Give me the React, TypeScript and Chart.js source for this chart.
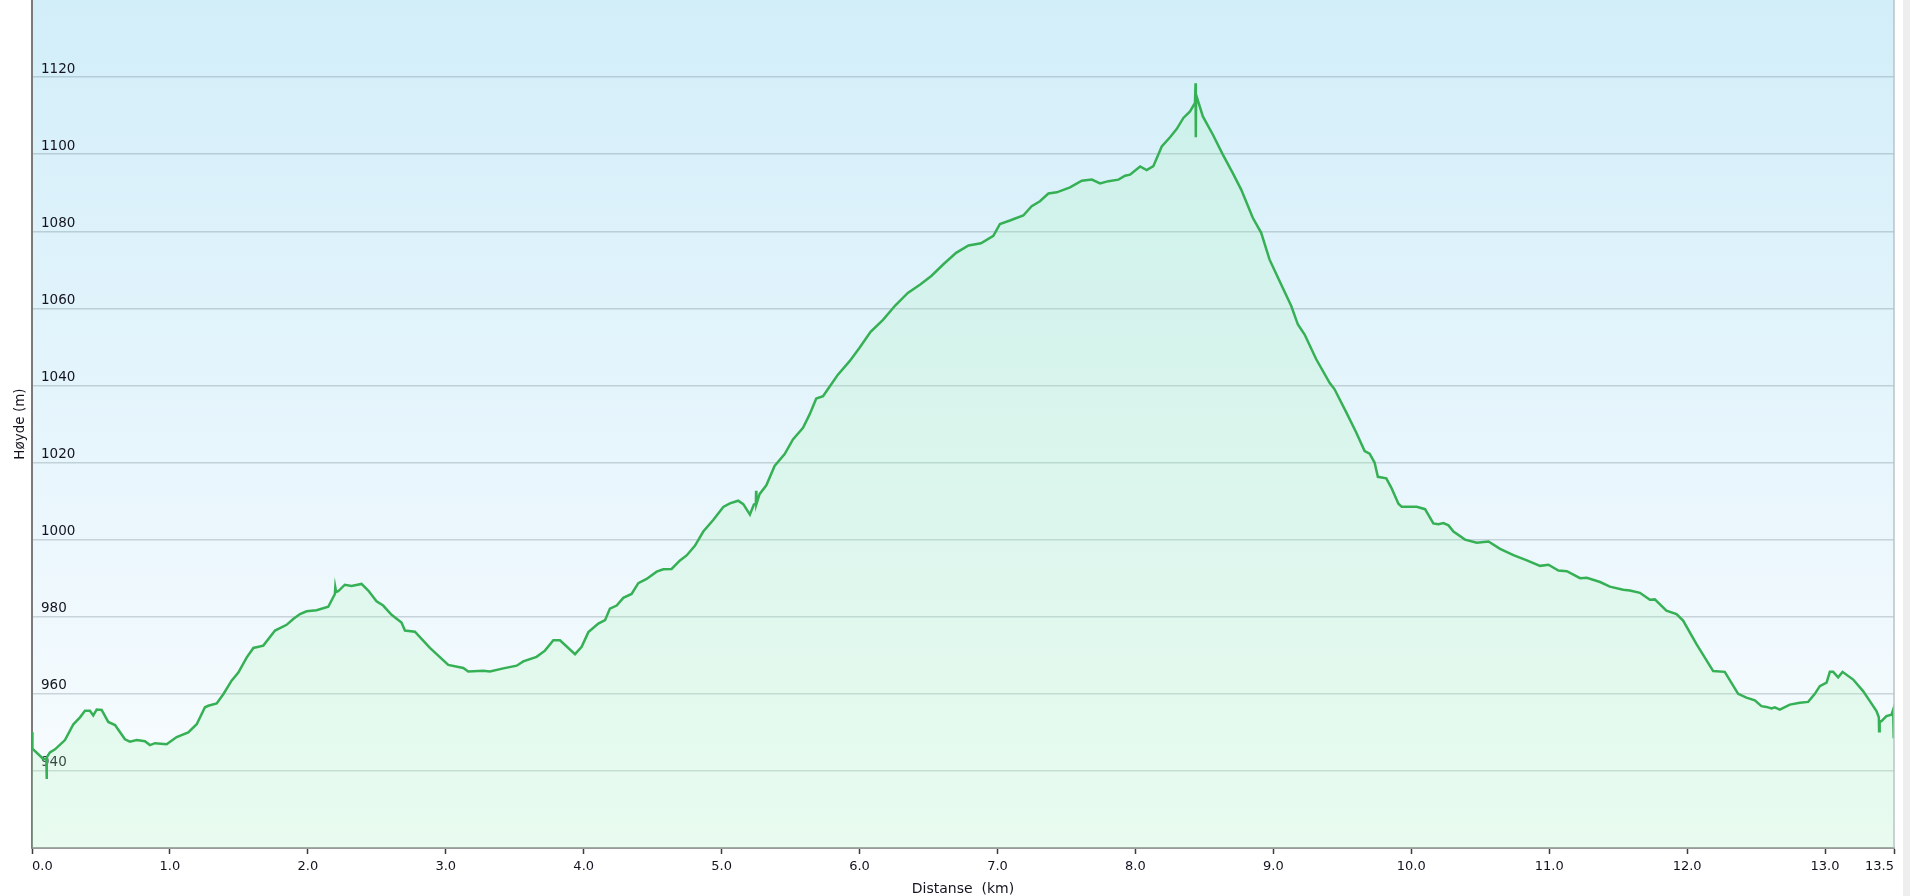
import React, { useEffect, useRef } from 'react';
import { Chart, registerables } from 'chart.js';

Chart.register(...registerables);

// Distance along the route (km)
const distanceKm = [
  0.0, 0.003, 0.082, 0.104, 0.106, 0.108, 0.13, 0.167, 0.239, 0.3, 0.348, 0.384, 0.42, 0.444, 0.469, 0.505,
  0.553, 0.602, 0.674, 0.71, 0.759, 0.819, 0.855, 0.892, 0.976, 1.049, 1.133, 1.194, 1.254, 1.278, 1.339,
  1.387, 1.447, 1.496, 1.556, 1.605, 1.677, 1.762, 1.846, 1.894, 1.943, 1.991, 2.063, 2.148, 2.196, 2.199,
  2.205, 2.22, 2.268, 2.317, 2.389, 2.438, 2.498, 2.546, 2.607, 2.679, 2.704, 2.776, 2.885, 3.018, 3.127,
  3.163, 3.272, 3.32, 3.417, 3.514, 3.562, 3.658, 3.719, 3.78, 3.828, 3.937, 3.985, 4.034, 4.106, 4.155,
  4.19, 4.239, 4.287, 4.347, 4.396, 4.456, 4.529, 4.577, 4.637, 4.698, 4.746, 4.806, 4.867, 4.939, 5.012,
  5.06, 5.12, 5.157, 5.205, 5.234, 5.248, 5.25, 5.252, 5.275, 5.324, 5.384, 5.457, 5.517, 5.59, 5.638,
  5.686, 5.735, 5.795, 5.843, 5.928, 6.0, 6.08, 6.17, 6.26, 6.35, 6.44, 6.52, 6.61, 6.7, 6.79, 6.88, 6.97,
  7.018, 7.09, 7.187, 7.248, 7.308, 7.369, 7.43, 7.526, 7.611, 7.684, 7.744, 7.804, 7.877, 7.925, 7.961,
  8.034, 8.082, 8.13, 8.191, 8.251, 8.299, 8.348, 8.396, 8.432, 8.436, 8.438, 8.44, 8.489, 8.561, 8.634,
  8.706, 8.767, 8.851, 8.912, 8.972, 9.045, 9.13, 9.178, 9.227, 9.311, 9.408, 9.444, 9.529, 9.601, 9.662,
  9.698, 9.734, 9.758, 9.819, 9.855, 9.907, 9.931, 10.04, 10.1, 10.16, 10.197, 10.233, 10.27, 10.306, 10.39,
  10.475, 10.56, 10.644, 10.741, 10.838, 10.934, 10.995, 11.067, 11.128, 11.224, 11.273, 11.369, 11.44,
  11.537, 11.585, 11.658, 11.73, 11.766, 11.85, 11.923, 11.971, 12.068, 12.189, 12.273, 12.37, 12.43,
  12.491, 12.539, 12.575, 12.612, 12.636, 12.672, 12.745, 12.817, 12.878, 12.926, 12.962, 13.011, 13.035,
  13.059, 13.095, 13.127, 13.204, 13.276, 13.325, 13.373, 13.39, 13.392, 13.396, 13.409, 13.445, 13.482,
  13.494, 13.498,
];

// Elevation (m)
const elevationM = [
  950.0, 945.8, 943.1, 943.0, 937.9, 943.5, 944.8, 945.6, 948.0, 952.1, 953.9, 955.6, 955.6, 954.4, 955.9, 955.8,
  952.7, 951.9, 948.2, 947.6, 948.0, 947.7, 946.7, 947.2, 946.9, 948.8, 950.0, 952.1, 956.5, 956.9, 957.5,
  959.9, 963.4, 965.5, 969.4, 971.9, 972.5, 976.4, 977.9, 979.4, 980.7, 981.4, 981.7, 982.6, 985.9, 987.6,
  986.4, 986.6, 988.3, 988.0, 988.5, 986.8, 984.0, 982.9, 980.5, 978.5, 976.4, 976.1, 971.9, 967.5, 966.7,
  965.8, 966.0, 965.8, 966.6, 967.3, 968.4, 969.6, 971.2, 973.9, 973.9, 970.3, 972.2, 976.0, 978.2, 979.1,
  982.1, 982.9, 984.9, 985.9, 988.7, 989.8, 991.7, 992.3, 992.4, 994.6, 995.9, 998.4, 1002.1, 1005.1, 1008.5,
  1009.4, 1010.1, 1009.2, 1006.5, 1009.1, 1009.3, 1012.7, 1009.2, 1011.8, 1014.1, 1019.1, 1022.2, 1026.0, 1029.0, 1032.5,
  1036.6, 1037.2, 1040.3, 1042.8, 1046.3, 1049.8, 1053.9, 1057.0, 1060.8, 1064.0, 1066.2, 1068.4, 1071.5, 1074.4, 1076.3, 1076.9, 1078.8,
  1081.9, 1082.8, 1084.1, 1086.5, 1087.8, 1089.8, 1090.1, 1091.4, 1093.1, 1093.4, 1092.4, 1093.0, 1093.4, 1094.4, 1094.7,
  1096.8, 1095.9, 1096.9, 1102.0, 1104.4, 1106.5, 1109.4, 1111.1, 1113.3, 1118.4, 1104.4, 1115.4, 1109.8, 1105.1, 1099.9,
  1095.1, 1090.8, 1083.5, 1079.6, 1072.7, 1067.1, 1060.6, 1055.8, 1053.2, 1046.8, 1040.7, 1039.0, 1033.0, 1027.8, 1023.0,
  1022.3, 1020.0, 1016.3, 1015.9, 1013.5, 1009.3, 1008.5, 1008.5, 1007.9, 1004.2, 1004.0, 1004.3, 1003.7, 1002.1, 1000.0,
  999.2, 999.5, 997.6, 996.0, 994.6, 993.2, 993.5, 992.0, 991.8, 990.0, 990.1, 989.0, 987.8,
  987.0, 986.8, 986.2, 984.4, 984.5, 981.6, 980.7, 979.0, 972.9, 965.9, 965.7, 960.0, 959.0,
  958.3, 956.8, 956.6, 956.2, 956.5, 955.9, 957.2, 957.7, 957.9, 960.0, 962.0, 962.9, 965.7,
  965.7, 964.3, 965.7, 963.7, 960.7, 958.1, 955.5, 953.9, 950.3, 952.9, 952.9, 954.2, 954.6,
  955.9, 948.5,
];

const xTickValues = [0, 1, 2, 3, 4, 5, 6, 7, 8, 9, 10, 11, 12, 13, 13.5];
const xMin = 0;
const xMax = 13.5;
const yMin = 920;
const yMax = 1140;
const yStep = 20;

const xTitle = 'Distanse  (km)';
const yTitle = 'Høyde (m)';

const FONT = 'DejaVu Sans';

const backgroundPlugin = {
  id: 'plotBackground',
  beforeDraw(chart: any) {
    const { ctx, chartArea: a } = chart;
    const g = ctx.createLinearGradient(0, a.top, 0, a.bottom);
    g.addColorStop(0, '#d2eef9');
    g.addColorStop(0.5, '#e6f5fc');
    g.addColorStop(1, '#fafdff');
    ctx.save();
    ctx.fillStyle = g;
    ctx.fillRect(a.left, a.top, a.right - a.left, a.bottom - a.top);
    ctx.restore();
  },
  afterDraw(chart: any) {
    const { ctx, chartArea: a } = chart;
    ctx.save();
    ctx.strokeStyle = '#b9c3c8';
    ctx.lineWidth = 1.5;
    ctx.beginPath();
    ctx.moveTo(a.right, a.top);
    ctx.lineTo(a.right, a.bottom);
    ctx.stroke();
    ctx.restore();
  },
};

export default function App() {
  const canvasRef = useRef<HTMLCanvasElement | null>(null);

  useEffect(() => {
    const canvas = canvasRef.current;
    if (!canvas) return;
    const points = distanceKm.map((d, i) => ({ x: d, y: elevationM[i] }));
    const chart = new Chart(canvas, {
      type: 'line',
      data: {
        datasets: [
          {
            data: points,
            borderColor: '#36b055',
            borderWidth: 2.5,
            backgroundColor: 'rgba(175, 245, 180, 0.22)',
            fill: 'start',
            pointRadius: 0,
            tension: 0,
          },
        ],
      },
      options: {
        animation: false,
        responsive: true,
        maintainAspectRatio: false,
        layout: { padding: { left: 0, right: 16, top: 0, bottom: 0 } },
        plugins: {
          legend: { display: false },
          tooltip: { enabled: false },
        },
        events: [],
        scales: {
          x: {
            type: 'linear',
            min: xMin,
            max: xMax,
            afterBuildTicks: (scale: any) => {
              scale.ticks = xTickValues.map((v) => ({ value: v }));
            },
            afterFit: (scale: any) => {
              scale.height = 48;
              scale.paddingLeft = 0;
              scale.paddingRight = 0;
            },
            grid: {
              drawOnChartArea: false,
              drawTicks: true,
              tickLength: 6,
              tickColor: '#3a3a3a',
              tickWidth: 1.5,
            },
            border: { display: true, color: '#9a9a9a', width: 2 },
            ticks: {
              autoSkip: false,
              maxRotation: 0,
              align: 'inner',
              padding: 5,
              color: '#141420',
              font: { family: FONT, size: 13 },
              callback: (v: any) => Number(v).toFixed(1),
            },
            title: {
              display: true,
              text: xTitle,
              color: '#141420',
              font: { family: FONT, size: 14, lineHeight: 1 },
              padding: { top: 0, bottom: 0 },
            },
          },
          y: {
            type: 'linear',
            min: yMin,
            max: yMax,
            afterFit: (scale: any) => {
              scale.width = 32;
              scale.paddingTop = 0;
              scale.paddingBottom = 0;
            },
            grid: {
              drawTicks: false,
              lineWidth: 1.5,
              color: (ctx: any) =>
                ctx.tick && (ctx.tick.value === yMax || ctx.tick.value === yMin)
                  ? 'rgba(0,0,0,0)'
                  : 'rgba(60, 80, 90, 0.22)',
            },
            border: { display: true, color: '#7a7a7a', width: 2 },
            ticks: {
              stepSize: yStep,
              mirror: true,
              padding: 9,
              labelOffset: -8,
              color: '#141420',
              font: { family: FONT, size: 13.5 },
              callback: (v: any) => (v === yMin || v === yMax ? '' : String(v)),
            },
            title: {
              display: true,
              text: yTitle,
              color: '#141420',
              font: { family: FONT, size: 13.5 },
              padding: { top: 12, bottom: 0 },
            },
          },
        },
      },
      plugins: [backgroundPlugin],
    } as any);
    return () => chart.destroy();
  }, []);

  return (
    <>
      <div style={{ position: 'absolute', left: 0, top: 0, width: 1910, height: 896, background: '#ffffff' }}>
        <canvas ref={canvasRef} />
      </div>
      <div style={{ position: 'absolute', left: 1903, top: 0, width: 7, height: 896, background: '#eeeeee' }} />
    </>
  );
}
